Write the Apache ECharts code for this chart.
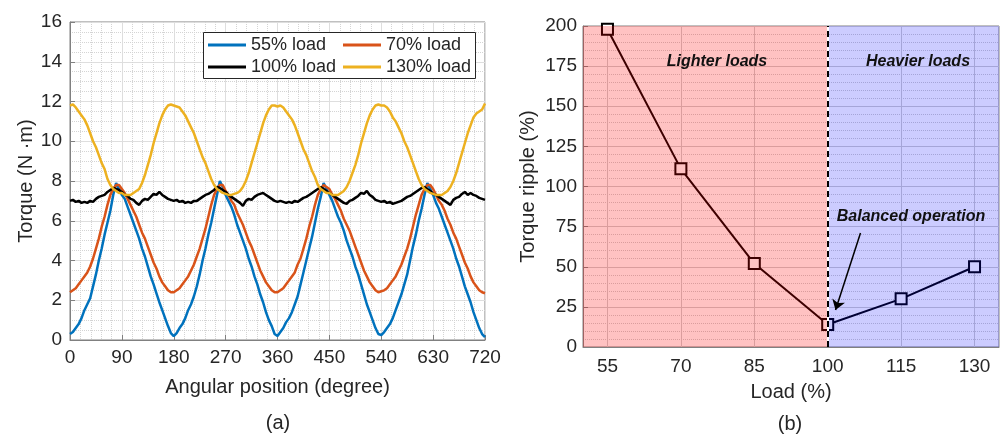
<!DOCTYPE html>
<html>
<head>
<meta charset="utf-8">
<script src="https://cdn.jsdelivr.net/npm/echarts@6/dist/echarts.min.js"></script>
<style>
  html, body { margin: 0; padding: 0; background: #fff; }
  #main { width: 1001px; height: 437px; }
</style>
</head>
<body>
<div id="main"></div>
<script>
// (a) torque vs angular position, one sample every 5 degrees, 0..720
const angleStep = 5;
const load55 = [
  0.3, 0.4, 0.6, 0.8, 1.1, 1.5, 1.8, 2.1, 2.7, 3.3, 4.0, 4.6, 5.3, 5.9, 6.5, 7.3, 7.9, 7.6, 7.3, 7.1,
  6.7, 6.3, 5.9, 5.5, 5.1, 4.6, 4.2, 3.7, 3.2, 2.8, 2.35, 1.9, 1.5, 1.1, 0.7, 0.35, 0.2,
  0.35, 0.6, 0.8, 1.1, 1.5, 1.8, 2.2, 2.7, 3.3, 4.0, 4.6, 5.3, 5.9, 6.6, 7.3, 8.0, 7.7, 7.3, 7.0, 6.7,
  6.3, 5.8, 5.4, 5.0, 4.6, 4.1, 3.7, 3.2, 2.8, 2.3, 1.9, 1.4, 1.0, 0.7, 0.3, 0.2,
  0.4, 0.6, 0.9, 1.1, 1.4, 1.8, 2.2, 2.8, 3.4, 4.0, 4.6, 5.2, 5.9, 6.6, 7.2, 7.9, 7.6, 7.3, 7.0, 6.6,
  6.2, 5.9, 5.5, 5.0, 4.6, 4.2, 3.7, 3.3, 2.8, 2.3, 1.8, 1.4, 1.0, 0.6, 0.3, 0.25,
  0.4, 0.6, 0.8, 1.1, 1.5, 1.9, 2.3, 2.8, 3.3, 4.0, 4.7, 5.3, 6.0, 6.6, 7.3, 7.9, 7.6, 7.3, 6.9, 6.6,
  6.2, 5.8, 5.4, 5.0, 4.6, 4.1, 3.7, 3.2, 2.7, 2.3, 1.9, 1.4, 1.0, 0.6, 0.3, 0.15
];
const load70 = [
  2.4, 2.5, 2.6, 2.8, 3.0, 3.2, 3.4, 3.7, 4.1, 4.6, 5.1, 5.7, 6.2, 6.8, 7.3, 7.6, 7.8, 7.8, 7.6, 7.4,
  7.1, 6.8, 6.5, 6.2, 5.8, 5.4, 5.1, 4.7, 4.3, 3.9, 3.6, 3.2, 2.9, 2.7, 2.5, 2.4, 2.4,
  2.5, 2.6, 2.8, 3.0, 3.2, 3.5, 3.8, 4.2, 4.6, 5.1, 5.6, 6.2, 6.8, 7.3, 7.6, 7.8, 7.8, 7.5, 7.3, 7.0,
  6.8, 6.4, 6.1, 5.8, 5.4, 5.0, 4.7, 4.3, 3.9, 3.5, 3.2, 2.9, 2.7, 2.5, 2.4, 2.4,
  2.5, 2.6, 2.8, 3.0, 3.2, 3.4, 3.8, 4.1, 4.6, 5.1, 5.7, 6.2, 6.8, 7.3, 7.6, 7.8, 7.7, 7.6, 7.3, 7.1,
  6.8, 6.5, 6.1, 5.8, 5.5, 5.1, 4.7, 4.3, 3.9, 3.5, 3.2, 2.9, 2.7, 2.5, 2.4, 2.45,
  2.5, 2.6, 2.8, 3.0, 3.2, 3.5, 3.8, 4.2, 4.6, 5.1, 5.7, 6.3, 6.8, 7.3, 7.6, 7.8, 7.8, 7.6, 7.3, 7.0,
  6.8, 6.5, 6.1, 5.8, 5.4, 5.1, 4.7, 4.3, 3.9, 3.6, 3.2, 2.9, 2.7, 2.5, 2.4, 2.35
];
const load100 = [
  7.0, 7.05, 6.95, 7.0, 6.9, 6.95, 6.9, 7.0, 6.95, 7.1, 7.2, 7.25, 7.3, 7.45, 7.55, 7.65, 7.6, 7.55, 7.45, 7.3,
  7.25, 7.1, 7.05, 6.9, 6.8, 7.0, 7.1, 7.05, 7.2, 7.35, 7.3, 7.45, 7.3, 7.2, 7.1, 7.05, 7.0,
  7.05, 6.95, 7.0, 6.9, 6.95, 6.9, 7.0, 7.0, 7.1, 7.2, 7.3, 7.35, 7.45, 7.55, 7.7, 7.65, 7.55, 7.45, 7.3, 7.2,
  7.1, 7.0, 6.9, 6.75, 7.0, 7.1, 7.05, 7.2, 7.3, 7.35, 7.4, 7.3, 7.2, 7.1, 7.0, 6.95,
  7.0, 6.95, 6.9, 6.95, 6.9, 7.0, 6.95, 7.05, 7.15, 7.2, 7.3, 7.4, 7.5, 7.6, 7.7, 7.6, 7.5, 7.4, 7.3, 7.2,
  7.1, 7.0, 6.9, 6.85, 7.0, 7.05, 7.15, 7.25, 7.4, 7.35, 7.5, 7.3, 7.2, 7.05, 7.0, 6.95,
  7.0, 6.9, 6.95, 6.85, 6.9, 6.95, 7.0, 7.1, 7.2, 7.25, 7.35, 7.45, 7.55, 7.65, 7.7, 7.6, 7.5, 7.35, 7.3, 7.2,
  7.1, 7.0, 6.9, 6.8, 7.05, 7.15, 7.2, 7.35, 7.45, 7.3, 7.4, 7.3, 7.25, 7.15, 7.1, 7.05
];
const load130 = [
  11.8, 11.85, 11.7, 11.5, 11.3, 11.1, 10.8, 10.4, 10.0, 9.7, 9.3, 8.9, 8.6, 8.1, 7.8, 7.6, 7.5, 7.4, 7.4, 7.3,
  7.3, 7.3, 7.4, 7.5, 7.6, 7.9, 8.3, 8.8, 9.3, 9.9, 10.4, 10.9, 11.3, 11.6, 11.8, 11.85, 11.8,
  11.75, 11.7, 11.5, 11.3, 11.0, 10.7, 10.4, 10.0, 9.6, 9.2, 8.9, 8.5, 8.1, 7.8, 7.6, 7.5, 7.4, 7.35, 7.3, 7.3,
  7.35, 7.4, 7.5, 7.7, 8.0, 8.4, 8.9, 9.4, 9.9, 10.4, 10.9, 11.3, 11.6, 11.8, 11.8, 11.75,
  11.8, 11.7, 11.5, 11.3, 11.1, 10.8, 10.4, 10.0, 9.6, 9.3, 8.9, 8.5, 8.2, 7.8, 7.6, 7.5, 7.4, 7.4, 7.3, 7.3,
  7.3, 7.4, 7.5, 7.7, 8.0, 8.4, 8.8, 9.3, 9.9, 10.4, 10.9, 11.3, 11.6, 11.8, 11.85, 11.8,
  11.8, 11.7, 11.5, 11.2, 11.0, 10.7, 10.4, 10.0, 9.7, 9.3, 8.9, 8.5, 8.1, 7.8, 7.6, 7.5, 7.4, 7.35, 7.3, 7.3,
  7.3, 7.4, 7.5, 7.7, 8.0, 8.4, 8.9, 9.4, 9.9, 10.4, 10.8, 11.2, 11.4, 11.5, 11.6, 11.9
];

// (b) torque ripple vs load
const loads = [55, 70, 85, 100, 115, 130];
const ripple = [198, 111, 52, 14, 30, 50];
const loadTicks = [55, 70, 85, 100, 115, 130];
const balancedLoad = 100;

const FONT = '"Liberation Sans", Arial, sans-serif';
const TXT = '#262626';
const AXIS = '#808080';

const toPairs = arr => arr.map((v, i) => [i * angleStep, v]);
const labelStyle = { color: TXT, fontSize: 19, fontFamily: FONT };
const nameStyle = { color: TXT, fontSize: 20, fontFamily: FONT };

function torqueSeries(name, data, color) {
  return {
    name: name,
    type: 'line',
    xAxisIndex: 0,
    yAxisIndex: 0,
    data: toPairs(data),
    symbol: 'none',
    color: color,
    lineStyle: { width: 2.5, color: color },
    z: 2
  };
}

var myChart = echarts.init(document.getElementById('main'));

let option = {
  animation: false,
  textStyle: { fontFamily: FONT },
  grid: [
    { left: 70, right: 516, top: 22, bottom: 97, show: true, borderColor: AXIS, borderWidth: 1, backgroundColor: '#fff' },
    { left: 583, right: 2, top: 26, bottom: 90, show: true, borderColor: AXIS, borderWidth: 1, backgroundColor: '#fff' }
  ],
  legend: [
    {
      data: ['55% load', '100% load'],
      orient: 'vertical', left: 208, top: 35, padding: 0, itemGap: 2,
      itemWidth: 38, itemHeight: 3, icon: 'rect', selectedMode: false,
      textStyle: { fontSize: 18, color: TXT, lineHeight: 20, fontFamily: FONT }
    },
    {
      data: ['70% load', '130% load'],
      orient: 'vertical', left: 343, top: 35, padding: 0, itemGap: 2,
      itemWidth: 38, itemHeight: 3, icon: 'rect', selectedMode: false,
      textStyle: { fontSize: 18, color: TXT, lineHeight: 20, fontFamily: FONT }
    }
  ],
  xAxis: [
    {
      gridIndex: 0, type: 'value', min: 0, max: 720, interval: 90,
      name: 'Angular position (degree)', nameLocation: 'middle', nameGap: 37, nameTextStyle: nameStyle,
      axisLine: { show: true, lineStyle: { color: AXIS } },
      axisTick: { show: true, inside: true, length: 5, lineStyle: { color: AXIS } },
      axisLabel: Object.assign({ margin: 8 }, labelStyle),
      splitLine: { show: true, lineStyle: { color: '#dedede' } },
      minorTick: { show: false, splitNumber: 5 },
      minorSplitLine: { show: true, lineStyle: { color: '#d4d4d4', type: 'dotted' } }
    },
    {
      gridIndex: 1, type: 'value', min: 50, max: 135, interval: 5,
      name: 'Load (%)', nameLocation: 'middle', nameGap: 35, nameTextStyle: nameStyle,
      axisLine: { show: true, lineStyle: { color: AXIS } },
      axisTick: { show: true, inside: true, length: 5, customValues: loadTicks, lineStyle: { color: AXIS } },
      axisLabel: Object.assign({ margin: 10, customValues: loadTicks }, labelStyle),
      splitLine: { show: true, lineStyle: { color: '#cfcfcf', type: 'dotted' } }
    }
  ],
  yAxis: [
    {
      gridIndex: 0, type: 'value', min: 0, max: 16, interval: 2,
      name: 'Torque (N \u00b7m)', nameLocation: 'middle', nameGap: 33, nameTextStyle: nameStyle,
      axisLine: { show: true, lineStyle: { color: AXIS } },
      axisTick: { show: true, inside: true, length: 5, lineStyle: { color: AXIS } },
      axisLabel: Object.assign({ margin: 8 }, labelStyle),
      splitLine: { show: true, lineStyle: { color: '#dedede' } },
      minorTick: { show: false, splitNumber: 4 },
      minorSplitLine: { show: true, lineStyle: { color: '#d4d4d4', type: 'dotted' } }
    },
    {
      gridIndex: 1, type: 'value', min: 0, max: 200, interval: 25,
      name: 'Torque ripple (%)', nameLocation: 'middle', nameGap: 45, nameTextStyle: nameStyle,
      axisLine: { show: true, lineStyle: { color: AXIS } },
      axisTick: { show: true, inside: true, length: 5, lineStyle: { color: AXIS } },
      axisLabel: Object.assign({ margin: 6 }, labelStyle),
      splitLine: { show: true, lineStyle: { color: '#cfcfcf' } },
      minorTick: { show: false, splitNumber: 5 },
      minorSplitLine: { show: true, lineStyle: { color: '#cfcfcf', type: 'dotted' } }
    }
  ],
  series: [
    torqueSeries('55% load', load55, '#0072BD'),
    torqueSeries('70% load', load70, '#D95319'),
    torqueSeries('100% load', load100, '#000000'),
    torqueSeries('130% load', load130, '#EDB120'),
    // major vertical grid lines of (b)
    {
      name: 'grid-b', type: 'line', xAxisIndex: 1, yAxisIndex: 1, data: [],
      markLine: {
        z: 1, silent: true, symbol: 'none', label: { show: false },
        lineStyle: { color: '#cfcfcf', type: 'solid', width: 1 },
        data: loadTicks.map(v => ({ xAxis: v }))
      }
    },
    // ripple curve with the translucent regions over it
    {
      name: 'ripple', type: 'line', xAxisIndex: 1, yAxisIndex: 1,
      data: loads.map((v, i) => [v, ripple[i]]),
      symbol: 'emptyRect', symbolSize: 11,
      itemStyle: { color: '#000', borderColor: '#000', borderWidth: 2 },
      lineStyle: { color: '#000', width: 2 },
      z: 2,
      markArea: {
        z: 3, silent: true,
        data: [
          [{ xAxis: 50, itemStyle: { color: 'rgba(255,0,0,0.24)' } }, { xAxis: balancedLoad }],
          [{ xAxis: balancedLoad, itemStyle: { color: 'rgba(0,0,255,0.2)' } }, { xAxis: 135 }]
        ]
      }
    },
    // dashed divider at balanced load
    {
      name: 'divider', type: 'line', xAxisIndex: 1, yAxisIndex: 1, data: [],
      markLine: {
        z: 6, silent: true, symbol: 'none', label: { show: false },
        data: [
          { xAxis: balancedLoad, lineStyle: { color: '#fff', type: 'solid', width: 2 } },
          { xAxis: balancedLoad, lineStyle: { color: '#000', type: [6, 4], width: 2 } }
        ]
      }
    },
    // arrow to the balanced operation point
    {
      name: 'arrow', type: 'line', xAxisIndex: 1, yAxisIndex: 1, data: [],
      markLine: {
        z: 7, silent: true, symbol: ['none', 'arrow'], symbolSize: 10, label: { show: false },
        lineStyle: { color: '#000', type: 'solid', width: 1.5 },
        data: [[{ coord: [106.7, 71] }, { coord: [101.6, 23] }]]
      }
    }
  ],
  graphic: [
    { type: 'rect', z: 3, shape: { x: 203.5, y: 32.5, width: 272, height: 46 },
      style: { fill: '#fff', stroke: TXT, lineWidth: 1 } },
    { type: 'text', z: 10, x: 717, y: 62,
      style: { text: 'Lighter loads', font: 'italic bold 16px ' + FONT, fill: '#111', align: 'center', verticalAlign: 'middle' } },
    { type: 'text', z: 10, x: 918, y: 62,
      style: { text: 'Heavier loads', font: 'italic bold 16px ' + FONT, fill: '#111', align: 'center', verticalAlign: 'middle' } },
    { type: 'text', z: 10, x: 911, y: 217,
      style: { text: 'Balanced operation', font: 'italic bold 16px ' + FONT, fill: '#111', align: 'center', verticalAlign: 'middle' } },
    { type: 'text', z: 10, x: 278, y: 423,
      style: { text: '(a)', font: '20px ' + FONT, fill: TXT, align: 'center', verticalAlign: 'middle' } },
    { type: 'text', z: 10, x: 790, y: 424,
      style: { text: '(b)', font: '20px ' + FONT, fill: TXT, align: 'center', verticalAlign: 'middle' } }
  ]
};

myChart.setOption(option);
</script>
</body>
</html>
